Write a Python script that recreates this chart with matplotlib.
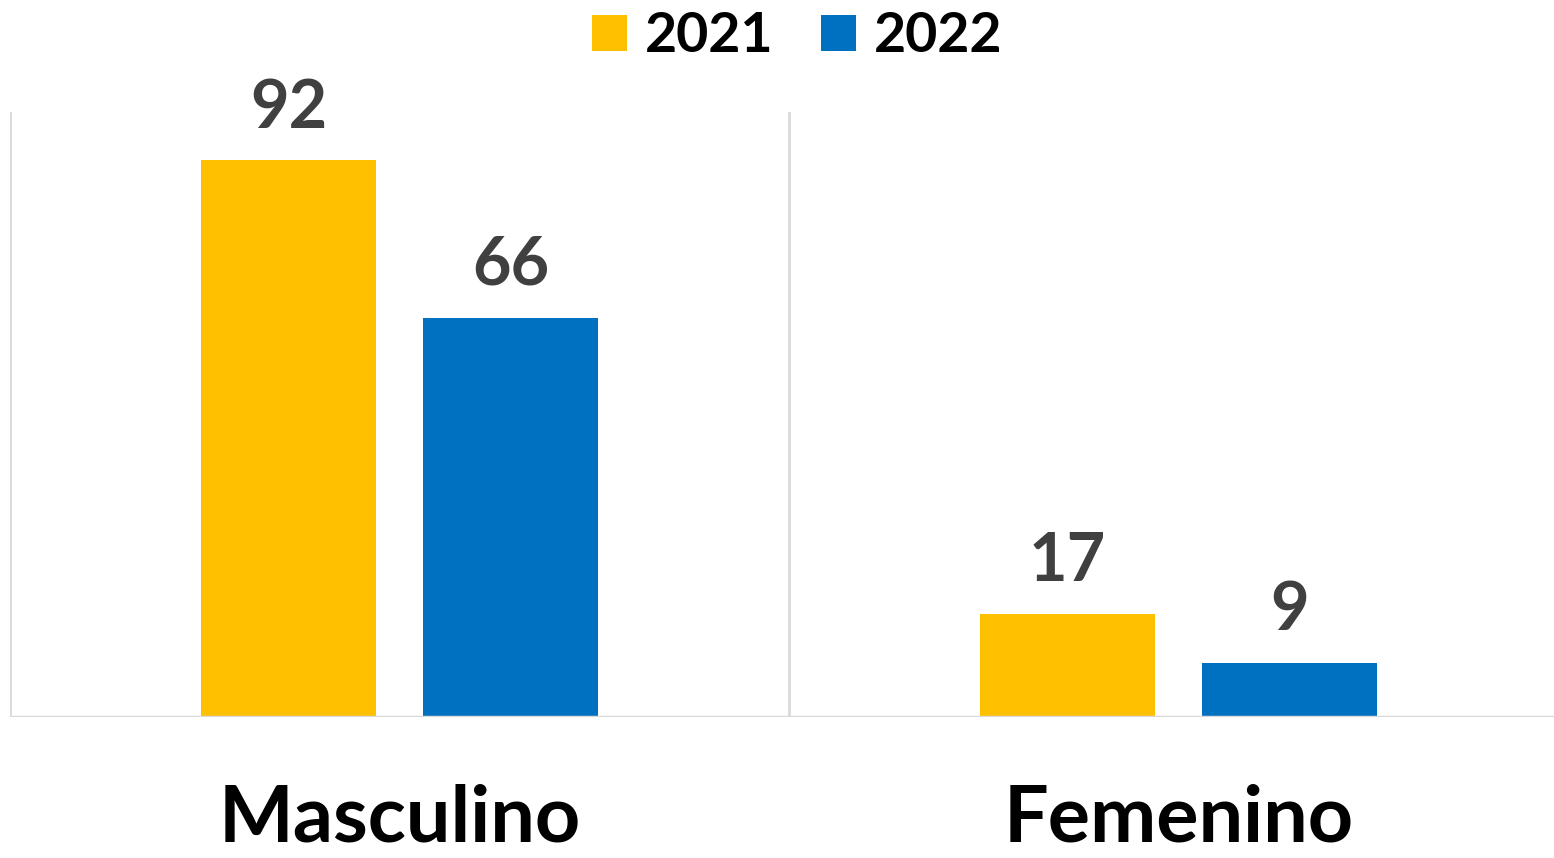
import numpy as np
import matplotlib.pyplot as plt
from matplotlib.patches import Patch

categories = ['Masculino', 'Femenino']
years = ['2021', '2022']
values_2021 = [92, 17]
values_2022 = [66, 9]

colors = ['#FFC000', '#0070C0']
font = 'Lato'
wt = 'bold'

fig = plt.figure(figsize=(15.54, 8.58), dpi=100)
# plot area runs slightly past the right edge, like the original
ax = fig.add_axes([10/1554, 1 - 717/858, 1558/1554, 605/858])

x = np.arange(len(categories))
w = 0.2234
off = 0.1425
b1 = ax.bar(x - off, values_2021, w, color=colors[0])
b2 = ax.bar(x + off, values_2022, w, color=colors[1])

for bars in (b1, b2):
    ax.bar_label(bars, padding=15, fontsize=48, fontweight=wt,
                 color='#404040', family=font)

ax.set_xlim(-0.5, 1.5)
ax.set_ylim(0, 100)

# category separators
for xv in (-0.5, 0.5):
    ax.axvline(xv, color='#D9D9D9', lw=2, zorder=0)
ax.axhline(0, color='#D9D9D9', lw=2.5, zorder=3)

for s in ax.spines.values():
    s.set_visible(False)
ax.set_xticks([])
ax.set_yticks([])

for xi, c in zip(x, categories):
    ax.text(xi, -(841 - 717)/605, c, transform=ax.get_xaxis_transform(),
            ha='center', va='baseline', fontsize=57, fontweight=wt,
            family=font, color='black')

handles = [Patch(facecolor=colors[i], label=years[i]) for i in range(2)]
leg = fig.legend(handles=handles, loc='upper center', ncol=2, frameon=False,
                 bbox_to_anchor=(0.513, 1.045),
                 handlelength=0.63, handleheight=0.63, handletextpad=0.32,
                 columnspacing=0.87, prop={'family': font, 'weight': wt, 'size': 40})

fig.savefig('out.png', dpi=100)
